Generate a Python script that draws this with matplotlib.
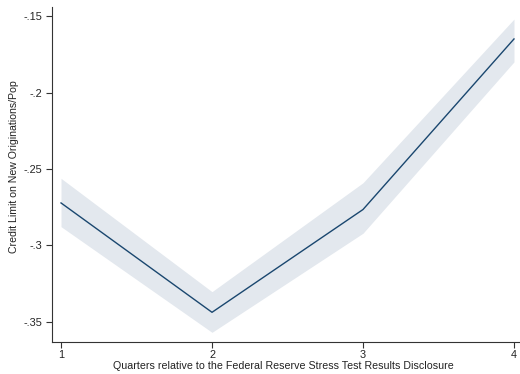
import matplotlib
matplotlib.use("Agg")
import matplotlib.pyplot as plt

quarters = [1, 2, 3, 4]
estimate = [-0.2722, -0.3437, -0.2765, -0.1650]
ci_upper = [-0.2561, -0.3302, -0.2590, -0.1520]
ci_lower = [-0.2877, -0.3568, -0.2920, -0.1800]
ytick_vals = [-0.15, -0.2, -0.25, -0.3, -0.35]
ytick_labels = ["-.15", "-.2", "-.25", "-.3", "-.35"]

plt.rcParams["font.family"] = ["Liberation Sans", "DejaVu Sans"]

fig = plt.figure(figsize=(5.2, 3.74), dpi=100)
ax = fig.add_axes([0.1, 0.0856, 0.9, 0.8957])

ax.fill_between(quarters, ci_lower, ci_upper, color="#e3e8ee", linewidth=0)
ax.plot(quarters, estimate, color="#1a476f", linewidth=1.0)

ax.set_xlim(1 - 9 / 150.7, 4 + 6 / 150.7)
ax.set_ylim(-0.3631, -0.1441)
ax.set_xticks(quarters)
ax.set_xticklabels([str(q) for q in quarters])
ax.set_yticks(ytick_vals)
ax.set_yticklabels(ytick_labels)

for side in ("top", "right"):
    ax.spines[side].set_visible(False)
for side in ("left", "bottom"):
    ax.spines[side].set_color("#333333")
    ax.spines[side].set_linewidth(0.8)

ax.tick_params(axis="both", direction="out", length=4, width=0.8,
               colors="#333333", labelsize=7.8, labelcolor="#222222")
ax.tick_params(axis="x", pad=2)
ax.tick_params(axis="y", pad=3)

ax.set_xlabel("Quarters relative to the Federal Reserve Stress Test Results Disclosure",
              fontsize=7.7, color="#222222", va="top")
ax.xaxis.set_label_coords(0.4936, -0.0567)
ax.set_ylabel("Credit Limit on New Originations/Pop", fontsize=7.6, color="#222222")
ax.yaxis.set_label_coords(-0.0705, 0.522)

fig.savefig("out.png", dpi=100)
